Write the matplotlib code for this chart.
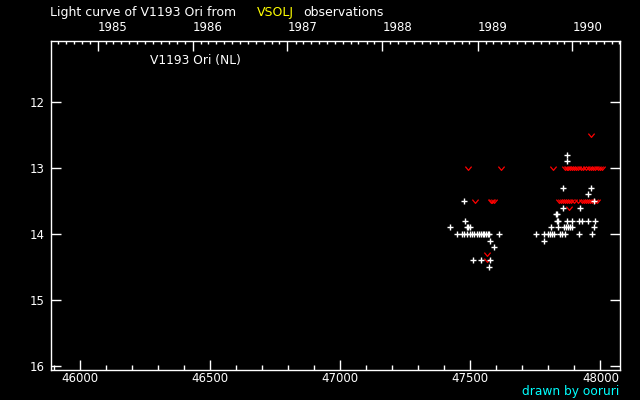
import datetime as dt
import matplotlib
matplotlib.use("Agg")
import matplotlib.pyplot as plt
from matplotlib.path import Path

# ---- data (JD - 2400000, visual magnitude) ----
vis_jd = [47477, 47481, 47423, 47487, 47492, 47500, 47450,
          47469, 47477, 47488, 47500, 47506, 47512, 47527, 47534, 47542, 47548, 47554, 47560, 47566, 47572,
          47611, 47577, 47592, 47511, 47542, 47577, 47573,
          47873, 47873, 47857, 47965, 47954, 47977, 47857, 47923, 47829, 47835,
          47832, 47838, 47873, 47892, 47919, 47931, 47954, 47981,
          47811, 47838, 47861, 47869, 47877, 47885, 47892, 47977,
          47754, 47784, 47800, 47808, 47815, 47822, 47846, 47854, 47862, 47919, 47967,
          47784]
vis_mag = [13.5, 13.8, 13.9, 13.9, 13.9, 13.9, 14.0,
           14.0, 14.0, 14.0, 14.0, 14.0, 14.0, 14.0, 14.0, 14.0, 14.0, 14.0, 14.0, 14.0, 14.0,
           14.0, 14.1, 14.2, 14.4, 14.4, 14.4, 14.5,
           12.8, 12.9, 13.3, 13.3, 13.4, 13.5, 13.6, 13.6, 13.7, 13.7,
           13.8, 13.8, 13.8, 13.8, 13.8, 13.8, 13.8, 13.8,
           13.9, 13.9, 13.9, 13.9, 13.9, 13.9, 13.9, 13.9,
           14.0, 14.0, 14.0, 14.0, 14.0, 14.0, 14.0, 14.0, 14.0, 14.0, 14.0,
           14.1]

lim_jd = [47492, 47619, 47519, 47578, 47584, 47590, 47565, 47565,
          47965, 47819,
          47864, 47870, 47876, 47882, 47890, 47898, 47906, 47915, 47925, 47935,
          47945, 47955, 47963, 47972, 47980, 47990, 48000, 48008,
          47842, 47848, 47855, 47862, 47870, 47878, 47886, 47898, 47912, 47929,
          47937, 47945, 47953, 47961, 47969, 47978, 47986,
          47880]
lim_mag = [13.0, 13.0, 13.5, 13.5, 13.5, 13.5, 14.3, 14.4,
           12.5, 13.0,
           13.0, 13.0, 13.0, 13.0, 13.0, 13.0, 13.0, 13.0, 13.0, 13.0,
           13.0, 13.0, 13.0, 13.0, 13.0, 13.0, 13.0, 13.0,
           13.5, 13.5, 13.5, 13.5, 13.5, 13.5, 13.5, 13.5, 13.5, 13.5,
           13.5, 13.5, 13.5, 13.5, 13.5, 13.5, 13.5,
           13.6]

x_ticks = [46000, 46500, 47000, 47500, 48000]
y_ticks = [12, 13, 14, 15, 16]
years = [1985, 1986, 1987, 1988, 1989, 1990]


def jd_of(d):
    return d.toordinal() - 678575.5


plt.rcParams['font.family'] = ['DejaVu Sans']
fig = plt.figure(figsize=(6.4, 4.0), dpi=100, facecolor='black')
ax = fig.add_axes([50.5 / 640, 1 - 370 / 400, (620.4 - 50.5) / 640, (370 - 40.7) / 400])
ax.set_facecolor('black')

vmark = Path([(-1, 0.6), (0, -0.6), (1, 0.6)], [Path.MOVETO, Path.LINETO, Path.LINETO])
ax.plot(lim_jd, lim_mag, linestyle='none', marker=vmark, markersize=4.5,
        markerfacecolor='none', markeredgecolor='red', markeredgewidth=0.9)
ax.plot(vis_jd, vis_mag, linestyle='none', marker='+', markersize=4,
        markeredgecolor='white', markeredgewidth=1.0)

ax.set_xlim(45885, 48077)
ax.set_ylim(16.06, 11.07)

for s in ax.spines.values():
    s.set_color('white')
    s.set_linewidth(1.0)

ax.set_xticks(x_ticks)
ax.set_xticklabels([str(v) for v in x_ticks])
ax.set_xticks(list(range(45900, 48077, 100)), minor=True)
ax.set_yticks(y_ticks)
ax.set_yticklabels([str(v) for v in y_ticks])
ax.tick_params(axis='x', which='major', direction='in', length=7, width=1, colors='white',
               labelsize=8.5, pad=1.5, bottom=True, top=False)
ax.tick_params(axis='x', which='minor', direction='in', length=3.6, width=1, colors='white',
               bottom=True, top=False)
ax.tick_params(axis='y', which='major', direction='in', length=7, width=1, colors='white',
               labelsize=8.5, pad=4.5, left=True, right=True)

# top year axis
ax2 = ax.twiny()
ax2.set_xlim(ax.get_xlim())
year_pos = [jd_of(dt.date(y, 1, 1)) for y in years]
ax2.set_xticks(year_pos)
ax2.set_xticklabels([str(y) for y in years], ha='left')
month_pos = []
for y in range(1984, 1991):
    for m in range(1, 13):
        p = jd_of(dt.date(y, m, 1))
        if 45885 < p < 48077 and m != 1:
            month_pos.append(p)
ax2.set_xticks(month_pos, minor=True)
ax2.tick_params(axis='x', which='major', direction='in', length=7, width=1, colors='white',
                labelsize=8.5, pad=4.5)
ax2.tick_params(axis='x', which='minor', direction='in', length=2.2, width=1, colors='white')
for lab in ax2.get_xticklabels():
    lab.set_horizontalalignment('left')
for s in ax2.spines.values():
    s.set_visible(False)

# texts
fs = 9
fig.text(50 / 640, 1 - 12.3 / 400, 'Light curve of V1193 Ori from', color='white', fontsize=fs,
         ha='left', va='center')
fig.text(257 / 640, 1 - 12.3 / 400, 'VSOLJ', color='yellow', fontsize=fs, ha='left', va='center')
fig.text(303 / 640, 1 - 12.3 / 400, 'observations', color='white', fontsize=fs, ha='left', va='center')
fig.text(150 / 640, 1 - 60.7 / 400, 'V1193 Ori (NL)', color='white', fontsize=8.8, ha='left', va='center')
fig.text(619.5 / 640, 1 - 391.5 / 400, 'drawn by ooruri', color='cyan', fontsize=8.8, ha='right', va='center')

fig.savefig('out.png', dpi=100, facecolor='black')
